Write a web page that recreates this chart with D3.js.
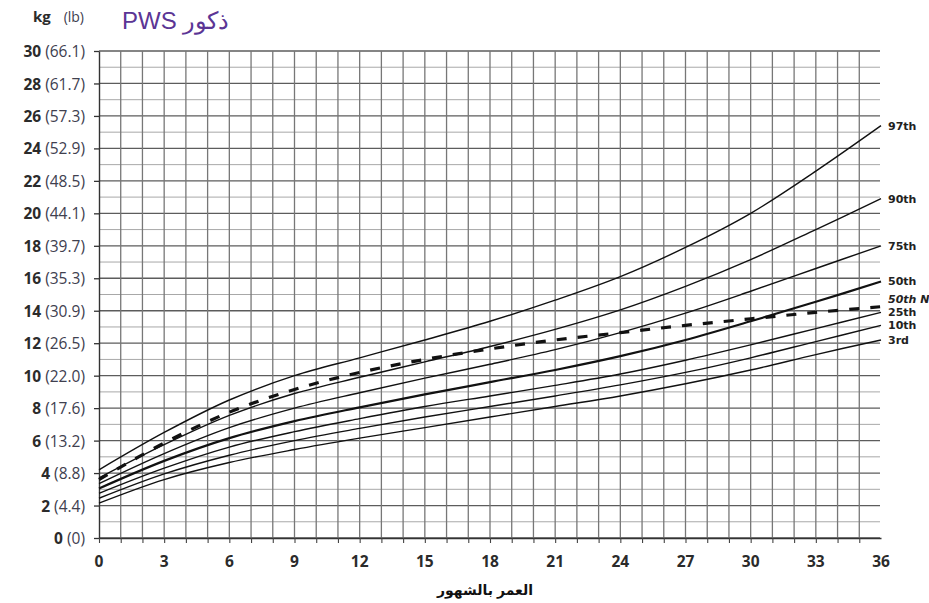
<!DOCTYPE html>
<html>
<head>
<meta charset="utf-8">
<script src="https://cdn.jsdelivr.net/npm/d3@7"></script>
<style>
  html, body { margin: 0; padding: 0; background: #fff; }
  svg { display: block; }
</style>
</head>
<body>
<svg id="chart" width="929" height="603"></svg>
<script>
// Age in months at which the curves are sampled
const months = [0, 3, 6, 9, 12, 15, 18, 21, 24, 27, 30, 33, 36];

// Weight (kg) by percentile for boys with PWS
const p97 = [4.2, 6.5, 8.5, 10.0, 11.1, 12.2, 13.35, 14.65, 16.1, 17.9, 20.0, 22.6, 25.4];
const p90 = [3.7, 5.75, 7.55, 8.9, 9.9, 10.85, 11.8, 12.85, 14.05, 15.5, 17.15, 19.0, 20.9];
const p75 = [3.35, 5.2, 6.8, 8.0, 8.95, 9.85, 10.7, 11.6, 12.65, 13.85, 15.2, 16.6, 18.0];
const p50 = [3.05, 4.75, 6.15, 7.2, 8.05, 8.85, 9.6, 10.35, 11.2, 12.2, 13.35, 14.55, 15.8];
const p25 = [2.75, 4.3, 5.6, 6.55, 7.35, 8.1, 8.75, 9.4, 10.1, 10.95, 11.9, 12.9, 13.9];
const p10 = [2.45, 3.95, 5.1, 6.0, 6.75, 7.45, 8.1, 8.75, 9.43, 10.2, 11.1, 12.1, 13.1];
const p3  = [2.15, 3.6, 4.65, 5.45, 6.15, 6.8, 7.45, 8.1, 8.75, 9.5, 10.35, 11.3, 12.2];
// 50th percentile of the general (non-PWS) population
const n50 = [3.6, 5.85, 7.75, 9.15, 10.2, 11.0, 11.65, 12.2, 12.65, 13.1, 13.5, 13.9, 14.25];

// Axis tick labels
const kgTicks = [0, 2, 4, 6, 8, 10, 12, 14, 16, 18, 20, 22, 24, 26, 28, 30];
const lbTicks = ["(0)", "(4.4)", "(8.8)", "(13.2)", "(17.6)", "(22.0)", "(26.5)", "(30.9)",
                 "(35.3)", "(39.7)", "(44.1)", "(48.5)", "(52.9)", "(57.3)", "(61.7)", "(66.1)"];
const monthTicks = [0, 3, 6, 9, 12, 15, 18, 21, 24, 27, 30, 33, 36];

const title = "PWS ذكور";
const xTitle = "العمر بالشهور";

const series = [
  { name: "97th", values: p97 },
  { name: "90th", values: p90 },
  { name: "75th", values: p75 },
  { name: "50th", values: p50, bold: true },
  { name: "25th", values: p25 },
  { name: "10th", values: p10 },
  { name: "3rd",  values: p3 }
];

const svg = d3.select("#chart");
const x = d3.scaleLinear().domain([0, 36]).range([99, 881]);
const y = d3.scaleLinear().domain([0, 30]).range([538, 51]);
const gridRight = 880;

// Grid: horizontal every kg (darker on even values), vertical every month
const grid = svg.append("g");
grid.selectAll("line.h")
  .data(d3.range(0, 31))
  .join("line")
  .attr("x1", x(0)).attr("x2", gridRight)
  .attr("y1", d => y(d)).attr("y2", d => y(d))
  .attr("stroke", d => d % 2 === 0 ? "#5c5c5c" : "#a8a8a8")
  .attr("stroke-width", d => d % 2 === 0 ? 1.3 : 1);
grid.selectAll("line.v")
  .data(d3.range(1, 36))
  .join("line")
  .attr("x1", d => x(d)).attr("x2", d => x(d))
  .attr("y1", y(0)).attr("y2", y(30))
  .attr("stroke", "#777")
  .attr("stroke-width", 1.3);

// Y axis (kg with lb in brackets)
const yAxis = svg.append("g")
  .attr("transform", `translate(${x(0)},0)`)
  .call(d3.axisLeft(y).tickValues(kgTicks).tickSize(5).tickSizeOuter(0).tickFormat(""));
yAxis.select(".domain").attr("stroke", "#333").attr("stroke-width", 1.4);
yAxis.selectAll(".tick line").attr("stroke", "#333").attr("stroke-width", 1.3);
yAxis.selectAll(".tick").each(function (d, i) {
  const t = d3.select(this).append("text")
    .attr("x", -14).attr("dy", "0.36em")
    .attr("text-anchor", "end")
    .attr("font-family", "'Open Sans', sans-serif")
    .attr("font-size", 15.5);
  t.append("tspan").attr("font-weight", 700).attr("fill", "#2b2b2b").text(d);
  t.append("tspan").attr("fill", "#40404f").text(" " + lbTicks[i]);
});

// X axis (months)
const xAxis = svg.append("g")
  .attr("transform", `translate(0,${y(0)})`)
  .call(d3.axisBottom(x).tickValues(d3.range(0, 36)).tickSize(5).tickSizeOuter(0).tickFormat(""));
xAxis.select(".domain").attr("stroke", "#333").attr("stroke-width", 1.4);
xAxis.selectAll(".tick line").attr("stroke", "#444").attr("stroke-width", 1.1);
svg.append("g").selectAll("text")
  .data(monthTicks)
  .join("text")
  .attr("x", d => x(d)).attr("y", 567)
  .attr("text-anchor", "middle")
  .attr("font-family", "'Open Sans', sans-serif")
  .attr("font-size", 15.5).attr("font-weight", 700)
  .attr("fill", "#2b2b2b")
  .text(d => d);

// Percentile curves
const line = d3.line()
  .x((d, i) => x(months[i]))
  .y(d => y(d))
  .curve(d3.curveCatmullRom.alpha(0.5));

svg.append("g").selectAll("path")
  .data(series)
  .join("path")
  .attr("d", d => line(d.values))
  .attr("fill", "none")
  .attr("stroke", "#111")
  .attr("stroke-width", d => d.bold ? 2.2 : 1.4);

svg.append("path")
  .attr("d", line(n50))
  .attr("fill", "none")
  .attr("stroke", "#111")
  .attr("stroke-width", 3.2)
  .attr("stroke-dasharray", "10,11");

// Curve labels at the right end
const lastY = v => y(v[v.length - 1]);
const labels = series.map(s => ({ name: s.name, yy: lastY(s.values), italic: false }));
labels.push({ name: "50th N", yy: lastY(n50) - 8, italic: true });
svg.append("g").selectAll("text")
  .data(labels)
  .join("text")
  .attr("x", 888).attr("y", d => d.yy).attr("dy", "0.35em")
  .attr("font-family", "'DejaVu Sans', sans-serif")
  .attr("font-size", 11).attr("font-weight", 700)
  .attr("font-style", d => d.italic ? "italic" : "normal")
  .attr("fill", "#222")
  .text(d => d.name);

// Units header
const unitFont = "'Open Sans', sans-serif";
svg.append("text")
  .attr("x", 33).attr("y", 22)
  .attr("font-family", unitFont).attr("font-size", 15).attr("font-weight", 700)
  .attr("fill", "#2b2b2b").text("kg");
svg.append("text")
  .attr("x", 84).attr("y", 22).attr("text-anchor", "end")
  .attr("font-family", unitFont).attr("font-size", 14)
  .attr("fill", "#40404f").text("(lb)");

// Title
svg.append("text")
  .attr("x", 122).attr("y", 29)
  .attr("font-family", "'Liberation Sans', Arial, sans-serif")
  .attr("font-size", 24)
  .attr("fill", "#5b3595")
  .text(title);

// X axis title
svg.append("text")
  .attr("x", 485).attr("y", 595)
  .attr("text-anchor", "middle")
  .attr("direction", "rtl")
  .attr("font-family", "'Liberation Sans', 'DejaVu Sans', sans-serif")
  .attr("font-size", 14).attr("font-weight", 700)
  .attr("fill", "#111")
  .text(xTitle);
</script>
</body>
</html>
